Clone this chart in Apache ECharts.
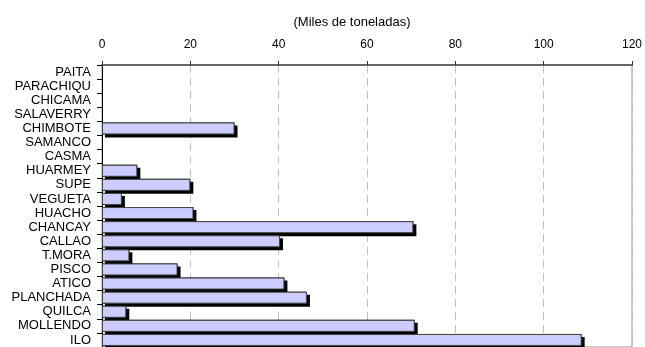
<!DOCTYPE html>
<html>
<head>
<meta charset="utf-8">
<script src="https://cdn.jsdelivr.net/npm/echarts@6/dist/echarts.min.js"></script>
<style>
  html, body { margin: 0; padding: 0; background: #fff; }
  #chart { width: 645px; height: 347px; }
</style>
</head>
<body>
<div id="chart"></div>
<script>
// Ports, listed north to south
const ports = ['PAITA', 'PARACHIQU', 'CHICAMA', 'SALAVERRY', 'CHIMBOTE', 'SAMANCO', 'CASMA',
  'HUARMEY', 'SUPE', 'VEGUETA', 'HUACHO', 'CHANCAY', 'CALLAO', 'T.MORA', 'PISCO', 'ATICO',
  'PLANCHADA', 'QUILCA', 'MOLLENDO', 'ILO'];

// Landings per port (thousand tonnes)
const landings = [0, 0, 0, 0, 30, 0, 0, 8, 20, 4.5, 20.7, 70.5, 40.3, 6.2, 17.1, 41.3,
  46.4, 5.5, 70.8, 108.6];

const xTicks = [0, 20, 40, 60, 80, 100, 120];
const unitTitle = '(Miles de toneladas)';

const FONT = '"Liberation Sans", Arial, sans-serif';

const BAR_W = 12;

// Empty ports draw nothing at all
const shadowData = landings.map(v => v === 0
  ? { value: v, itemStyle: { color: 'transparent', shadowColor: 'transparent' } }
  : { value: v });
const barData = landings.map(v => v === 0
  ? { value: v, itemStyle: { color: 'transparent', borderWidth: 0 } }
  : { value: v });

const chart = echarts.init(document.getElementById('chart'), null, { renderer: 'canvas' });

chart.setOption({
  animation: false,
  backgroundColor: '#ffffff',
  title: {
    text: unitTitle,
    left: 347,
    top: 11,
    textAlign: 'center',
    textStyle: { fontFamily: FONT, fontSize: 13, fontWeight: 'normal', color: '#000' }
  },
  grid: {
    left: 102,
    width: 530,
    top: 65,
    height: 284,
    show: true,
    borderColor: '#999',
    borderWidth: 1,
    backgroundColor: 'transparent'
  },
  xAxis: {
    type: 'value',
    position: 'top',
    min: xTicks[0],
    max: xTicks[xTicks.length - 1],
    interval: 20,
    axisLine: { show: true, lineStyle: { color: '#666', width: 2 } },
    axisTick: { show: true, length: 4, lineStyle: { color: '#333' } },
    axisLabel: { fontFamily: FONT, fontSize: 12, color: '#000', margin: 14 },
    splitLine: { show: true, lineStyle: { color: '#c0c0c0', type: [8, 5], width: 1 } }
  },
  yAxis: {
    type: 'category',
    data: ports,
    inverse: true,
    axisLine: { show: true, lineStyle: { color: '#000', width: 1 } },
    axisTick: { show: true, length: 5, lineStyle: { color: '#000' } },
    axisLabel: { fontFamily: FONT, fontSize: 13, color: '#000', margin: 11, interval: 0 },
    splitLine: { show: false }
  },
  series: [
    {
      // solid black copy underneath; its drop shadow peeks out right and below
      type: 'bar',
      data: shadowData,
      barWidth: BAR_W,
      silent: true,
      itemStyle: {
        color: '#000',
        shadowColor: '#000',
        shadowBlur: 0,
        shadowOffsetX: 3,
        shadowOffsetY: 3
      }
    },
    {
      type: 'bar',
      data: barData,
      barWidth: BAR_W,
      barGap: '-100%',
      itemStyle: {
        color: '#CCCCFF',
        borderColor: '#444',
        borderWidth: 1
      }
    }
  ]
});
</script>
</body>
</html>
